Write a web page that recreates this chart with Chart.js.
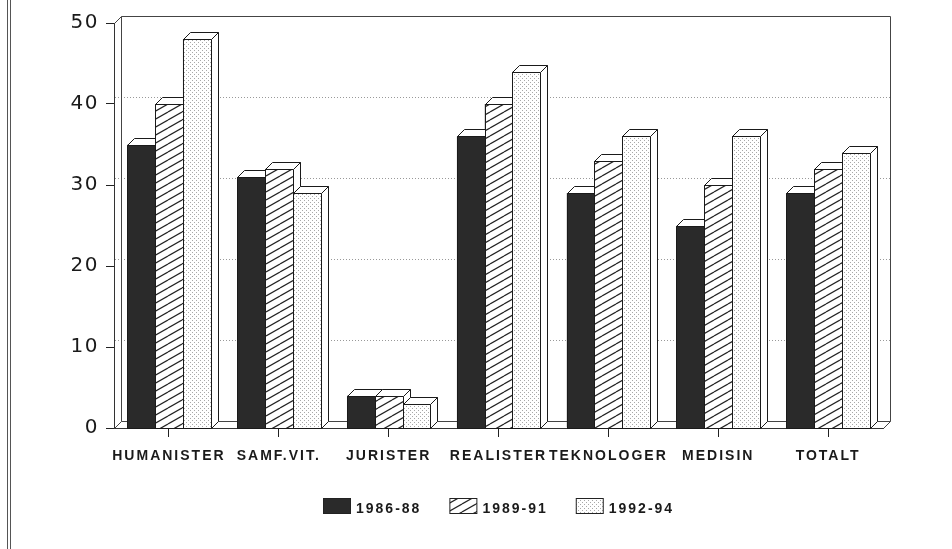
<!DOCTYPE html>
<html>
<head>
<meta charset="utf-8">
<script src="https://cdn.jsdelivr.net/npm/chart.js@4"></script>
<style>
html, body { margin: 0; padding: 0; background: #fff; }
#wrap { position: relative; width: 952px; height: 549px; }
#frame { position: absolute; left: 7px; top: 0; width: 2px; height: 549px; border-left: 1px solid #555; border-right: 1px solid #555; }
canvas { position: absolute; left: 0; top: 0; }
</style>
</head>
<body>
<div id="wrap"><div id="frame"></div><canvas id="chart" width="952" height="549"></canvas></div>
<script>
var labels = ['HUMANISTER', 'SAMF.VIT.', 'JURISTER', 'REALISTER', 'TEKNOLOGER', 'MEDISIN', 'TOTALT'];
var s8688 = [35, 31, 4, 36, 29, 25, 29];
var s8991 = [40, 32, 4, 40, 33, 30, 32];
var s9294 = [48, 29, 3, 44, 36, 36, 34];
var seriesNames = ['1986-88', '1989-91', '1992-94'];
var yTicks = [0, 10, 20, 30, 40, 50];

var D = 7; // depth of the 3d look
var FONT = "'Liberation Sans', Arial, sans-serif";

function hatch() {
    var c = document.createElement('canvas');
    c.width = 14; c.height = 8;
    var g = c.getContext('2d');
    g.fillStyle = '#fff';
    g.fillRect(0, 0, 14, 8);
    g.strokeStyle = '#222';
    g.lineWidth = 1.2;
    for (var k = -1; k <= 1; k++) {
        g.beginPath();
        g.moveTo(0, 8 + k * 8);
        g.lineTo(14, k * 8);
        g.stroke();
    }
    return g.createPattern(c, 'repeat');
}

function dots() {
    var c = document.createElement('canvas');
    c.width = 4; c.height = 4;
    var g = c.getContext('2d');
    g.fillStyle = '#fff';
    g.fillRect(0, 0, 4, 4);
    g.fillStyle = '#a8a8a8';
    g.fillRect(0, 0, 1, 1);
    g.fillRect(2, 2, 1, 1);
    return g.createPattern(c, 'repeat');
}

var fills = ['#2a2a2a', hatch(), dots()];

function line(ctx, x1, y1, x2, y2) {
    ctx.beginPath();
    ctx.moveTo(x1, y1);
    ctx.lineTo(x2, y2);
    ctx.stroke();
}

function poly(ctx, pts) {
    ctx.beginPath();
    ctx.moveTo(pts[0][0], pts[0][1]);
    for (var i = 1; i < pts.length; i++) ctx.lineTo(pts[i][0], pts[i][1]);
    ctx.closePath();
    ctx.fill();
    ctx.stroke();
}

// y labels get their own spacing
function spacedLabels(s) {
    if (s._spaced) return;
    s._spaced = true;
    var orig = s.drawLabels;
    s.drawLabels = function (area) {
        var c = this.ctx;
        c.letterSpacing = '1.5px';
        orig.call(this, area);
        c.letterSpacing = '2px';
    };
}

var box3d = {
    id: 'box3d',
    beforeDraw: function (chart) {
        chart.ctx.letterSpacing = '2px';
    },
    beforeDatasetsDraw: function (chart) {
        var ctx = chart.ctx, a = chart.chartArea, y = chart.scales.y;
        ctx.save();
        ctx.lineWidth = 1;
        ctx.strokeStyle = '#999';
        ctx.setLineDash([1, 2]);
        yTicks.forEach(function (v) {
            if (v > 0 && v < 50) {
                var py = Math.round(y.getPixelForValue(v)) - D + 0.5;
                line(ctx, a.left + 1, py, a.right + D, py);
            }
        });
        ctx.setLineDash([]);
        ctx.strokeStyle = '#444';
        var l = Math.round(a.left) + 0.5, r = Math.round(a.right) + 0.5;
        var t = Math.round(a.top) + 0.5, b = Math.round(a.bottom) + 0.5;
        ctx.beginPath();
        ctx.moveTo(l + D, b - D);
        ctx.lineTo(l + D, t - D);
        ctx.lineTo(r + D, t - D);
        ctx.lineTo(r + D, b - D);
        ctx.lineTo(l + D, b - D);
        ctx.stroke();
        line(ctx, l, t, l + D, t - D);
        line(ctx, l, b, l + D, b - D);
        line(ctx, r, b, r + D, b - D);
        ctx.restore();
    },
    afterDatasetsDraw: function (chart) {
        var ctx = chart.ctx;
        ctx.save();
        ctx.lineWidth = 1;
        ctx.strokeStyle = '#1a1a1a';
        for (var i = 0; i < labels.length; i++) {
            for (var j = 0; j < chart.data.datasets.length; j++) {
                var el = chart.getDatasetMeta(j).data[i];
                var L = Math.round(el.x - el.width / 2) + 0.5;
                var R = Math.round(el.x + el.width / 2) + 0.5;
                var T = Math.round(el.y) + 0.5;
                var B = Math.round(el.base) + 0.5;
                ctx.fillStyle = chart.data.datasets[j].backgroundColor;
                ctx.fillRect(L, T, R - L, B - T);
                ctx.strokeRect(L, T, R - L, B - T);
                ctx.fillStyle = '#fff';
                poly(ctx, [[L, T], [L + D, T - D], [R + D, T - D], [R, T]]);
                poly(ctx, [[R, T], [R + D, T - D], [R + D, B - D], [R, B]]);
            }
        }
        ctx.restore();
    },
    afterDraw: function (chart) {
        var ctx = chart.ctx, a = chart.chartArea;
        ctx.save();
        ctx.font = 'bold 14px ' + FONT;
        ctx.letterSpacing = '2px';
        ctx.textBaseline = 'alphabetic';
        var bw = 27, bh = 15, gap = 6, sep = 28;
        var widths = chart.data.datasets.map(function (ds) { return bw + gap + ctx.measureText(ds.label).width; });
        var total = widths.reduce(function (s, w) { return s + w; }, 0) + sep * (widths.length - 1);
        var x = Math.round((a.left + a.right) / 2 - total / 2);
        var by = 498;
        chart.data.datasets.forEach(function (ds, k) {
            ctx.fillStyle = ds.backgroundColor;
            ctx.fillRect(x + 0.5, by + 0.5, bw, bh);
            ctx.strokeStyle = '#222';
            ctx.lineWidth = 1;
            ctx.strokeRect(x + 0.5, by + 0.5, bw, bh);
            ctx.fillStyle = '#1a1a1a';
            ctx.fillText(ds.label, x + bw + gap, by + bh);
            x += widths[k] + sep;
        });
        ctx.restore();
    }
};

var ctx = document.getElementById('chart').getContext('2d');
Chart.defaults.font.family = FONT;
Chart.defaults.color = '#1a1a1a';

var chart = new Chart(ctx, {
    type: 'bar',
    data: {
        labels: labels,
        datasets: [
            { label: seriesNames[0], data: s8688, backgroundColor: fills[0], borderColor: '#1a1a1a', borderWidth: 1 },
            { label: seriesNames[1], data: s8991, backgroundColor: fills[1], borderColor: '#1a1a1a', borderWidth: 1 },
            { label: seriesNames[2], data: s9294, backgroundColor: fills[2], borderColor: '#1a1a1a', borderWidth: 1 }
        ]
    },
    options: {
        responsive: false,
        animation: false,
        layout: { padding: { top: 23, right: 69, left: 0, bottom: 0 } },
        plugins: { legend: { display: false }, tooltip: { enabled: false } },
        datasets: { bar: { categoryPercentage: 0.76, barPercentage: 1.0 } },
        scales: {
            x: {
                afterFit: function (s) { s.height = 121; },
                grid: { display: true, drawOnChartArea: false, offset: false, tickLength: 9, color: '#222' },
                border: { display: true, color: '#333' },
                ticks: { autoSkip: false, maxRotation: 0, minRotation: 0, padding: 11, font: { size: 14, weight: 'bold' } }
            },
            y: {
                min: 0,
                max: 50,
                afterFit: function (s) { s.width = 114; spacedLabels(s); },
                grid: { display: true, drawOnChartArea: false, tickLength: 8, color: '#222' },
                border: { display: true, color: '#333' },
                ticks: { stepSize: 10, padding: 7, font: { family: "'DejaVu Sans', sans-serif", size: 20 } }
            }
        }
    },
    plugins: [box3d]
});
</script>
</body>
</html>
